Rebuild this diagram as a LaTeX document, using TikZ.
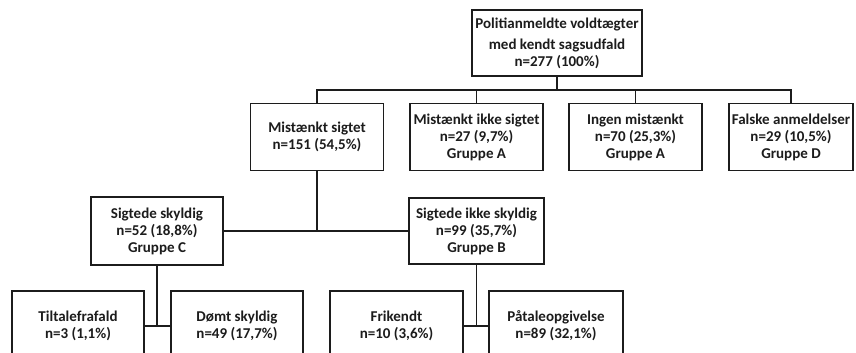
\documentclass[tikz,border=0pt]{standalone}
\usepackage{fontspec}
\setmainfont{Carlito}
\usepackage{xcolor}
\usepackage{tikz}
\usetikzlibrary{positioning,calc}
\definecolor{BoxInk}{RGB}{28,28,28}

\begin{document}
\begin{tikzpicture}[x=1pt,y=-1pt]
	\tikzset{
		sagnode/.style={
			shape=rectangle,
			draw=BoxInk,
			line width=1.5pt,
			fill=white,
			minimum width=133pt,
			minimum height=67pt,
			inner sep=1pt,
			align=center,
			font=\fontsize{15}{17}\selectfont\bfseries,
			text=BoxInk
		},
		sagedge/.style={draw=BoxInk,line width=1.5pt}
	}
	\useasboundingbox (0,0) rectangle (856,353);

	% Øverste niveau og de fire udfald
	\node[sagnode, minimum width=170pt, minimum height=66pt] (alle) at (557,43)
		{Politianmeldte voldtægter\\[4pt]med kendt sagsudfald\\n=277 (100\%)};
	\node[sagnode] (sigtet) at (317,137) {Mistænkt sigtet\\n=151 (54,5\%)};
	\node[sagnode] (ikkesigtet) at (476.5,137) {Mistænkt ikke sigtet\\n=27 (9,7\%)\\Gruppe A};
	\node[sagnode] (ingen) at (635.5,137) {Ingen mistænkt\\n=70 (25,3\%)\\Gruppe A};
	\node[sagnode, minimum width=124pt] (falske) at (791,137) {Falske anmeldelser\\n=29 (10,5\%)\\Gruppe D};

	% Sigtede
	\node[sagnode, minimum width=132pt, minimum height=68pt] (skyldig) at (157,231) {Sigtede skyldig\\n=52 (18,8\%)\\Gruppe C};
	\node[sagnode, minimum width=135pt, minimum height=66pt] (ikkeskyldig) at (476.5,231) {Sigtede ikke skyldig\\n=99 (35,7\%)\\Gruppe B};

	% Afgørelser
	\node[sagnode, minimum width=132pt, minimum height=70pt] (tiltale) at (78,326) {Tiltalefrafald\\n=3 (1,1\%)};
	\node[sagnode, minimum width=132pt, minimum height=70pt] (doemt) at (237,326) {Dømt skyldig\\n=49 (17,7\%)};
	\node[sagnode, minimum width=133pt, minimum height=70pt] (frikendt) at (396.5,326) {Frikendt\\n=10 (3,6\%)};
	\node[sagnode, minimum width=134pt, minimum height=70pt] (paatale) at (556,326) {Påtaleopgivelse\\n=89 (32,1\%)};

	\coordinate (bus) at (557,90);
	\draw[sagedge] (alle.south) -- (bus);
	\draw[sagedge] (sigtet.north) |- (bus) -| (falske.north);
	\draw[sagedge] (ikkesigtet.north) -- (ikkesigtet.north |- bus);
	\draw[sagedge] (ingen.north) -- (ingen.north |- bus);

	\draw[sagedge] (sigtet.south) -- (sigtet.south |- skyldig.east);
	\draw[sagedge] (skyldig.east) -- (ikkeskyldig.west);

	\draw[sagedge] (skyldig.south) -- (skyldig.south |- tiltale.east);
	\draw[sagedge] (tiltale.east) -- (doemt.west);
	\draw[sagedge] (ikkeskyldig.south) -- (ikkeskyldig.south |- frikendt.east);
	\draw[sagedge] (frikendt.east) -- (paatale.west);
\end{tikzpicture}
\end{document}
